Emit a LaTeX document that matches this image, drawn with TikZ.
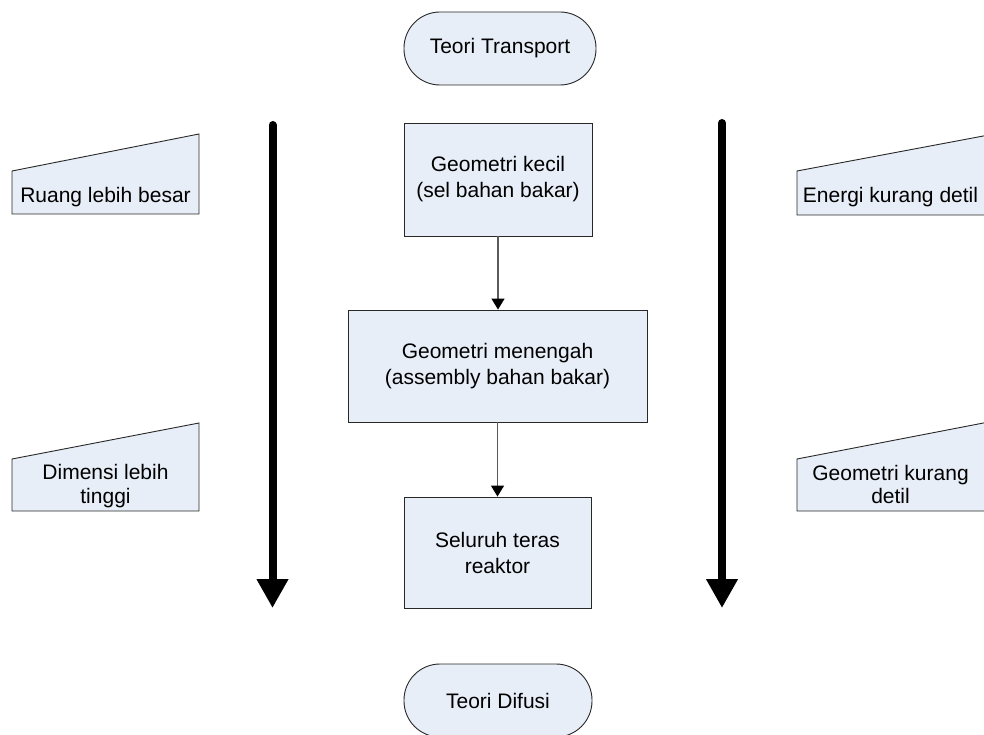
\documentclass[tikz,border=0pt]{standalone}
\usepackage{fontspec}
\setmainfont{Liberation Sans}
\usetikzlibrary{arrows.meta}
\definecolor{boxfill}{RGB}{232,238,247}
\definecolor{thinline}{RGB}{90,90,90}
\definecolor{edge}{RGB}{40,40,40}
\begin{document}
\begin{tikzpicture}[x=1pt,y=-1pt,
  every node/.style={font=\fontsize{21}{26}\selectfont},
  box/.style={draw=edge, line width=0.9pt, fill=boxfill, align=center, inner sep=0pt},
  terminal/.style={box, rounded corners=36pt},
  flow/.style={thinline, line width=1.4pt, -{Triangle[width=13pt,length=11pt,black]}},
  bigarrow/.style={line width=8pt, line cap=round, -{Triangle[width=30pt,length=29pt]}},
  manual/.style={draw=edge, line width=0.9pt, fill=boxfill},
  side/.style={align=center, font=\fontsize{21}{23.5}\selectfont}]
\useasboundingbox (0,0) rectangle (984,735);

% central flow
\node[terminal, minimum width=192pt, minimum height=73pt] (tt) at (500,48.5) {Teori Transport};
\node[box, minimum width=188pt, minimum height=113pt] (g1) at (498,179.5) {Geometri kecil\\(sel bahan bakar)};
\node[box, minimum width=299pt, minimum height=112pt] (g2) at (497.5,366) {Geometri menengah\\(assembly bahan bakar)};
\node[box, minimum width=187pt, minimum height=111pt] (g3) at (497.5,552.5) {Seluruh teras\\reaktor};
\node[terminal, minimum width=188pt, minimum height=73pt] (td) at (498,700.5) {Teori Difusi};

\draw[flow] (g1.south) -- (g1.south |- g2.north);
\draw[flow] (g2.south) -- (g2.south |- g3.north);

% thick arrows
\coordinate (la) at (272.5,125);
\coordinate (lb) at (272.5,608);
\coordinate (ra) at (722,123);
\coordinate (rb) at (722,608);
\draw[bigarrow] (la) -- (lb);
\draw[bigarrow] (ra) -- (rb);

% manual-input shapes, left
\draw[manual] (12,171) -- (199,134) -- (199,214) -- (12,214) -- cycle;
\node[side] (rl) at (105.5,197.5) {Ruang lebih besar};
\draw[manual] (12,459) -- (199,423) -- (199,511) -- (12,511) -- cycle;
\node[side] (dl) at (105.5,486) {Dimensi lebih\\tinggi};

% manual-input shapes, right
\draw[manual] (797,171) -- (986,135.5) -- (986,215) -- (797,215) -- cycle;
\node[side] (ek) at (890.5,197.5) {Energi kurang detil};
\draw[manual] (797,459) -- (986,422.5) -- (986,511) -- (797,511) -- cycle;
\node[side] (gk) at (890.5,484.5) {Geometri kurang\\detil};
\end{tikzpicture}
\end{document}
